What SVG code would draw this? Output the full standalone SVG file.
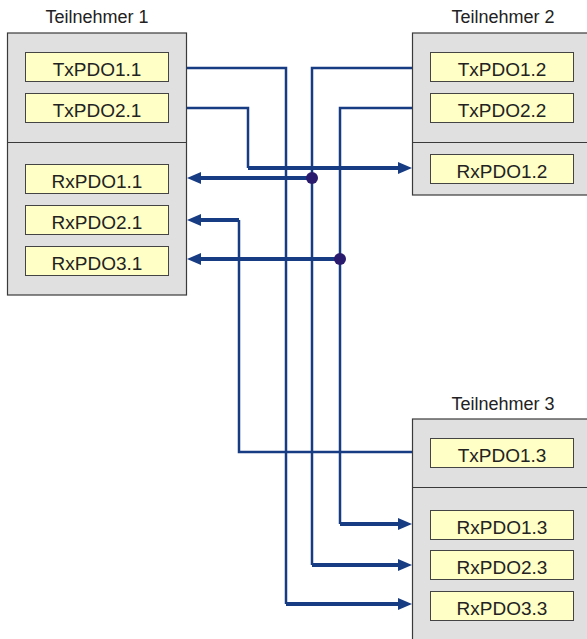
<svg xmlns="http://www.w3.org/2000/svg" width="587" height="639" viewBox="0 0 587 639">
<defs>
<style>
.outer{fill:#e0e0e0;stroke:#3a3a3a;stroke-width:1.2}
.div{stroke:#3a3a3a;stroke-width:1.2}
.pdo{fill:#ffffc6;stroke:#444;stroke-width:1}
.lbl{font-family:"Liberation Sans",Arial,sans-serif;font-size:19px;fill:#222;text-anchor:middle}
.ttl{font-family:"Liberation Sans",Arial,sans-serif;font-size:18px;fill:#222;text-anchor:middle}
.wire{fill:none;stroke:#173c84;stroke-width:2.5}
.arr{fill:none;stroke:#173c84;stroke-width:4;marker-end:url(#ah)}
.dot{fill:#2a1b6e}
</style>
<marker id="ah" markerUnits="userSpaceOnUse" markerWidth="14" markerHeight="12" refX="4" refY="6" orient="auto">
<path d="M0,0 L14,6 L0,12 z" fill="#173c84"/>
</marker>
</defs>

<g id="teilnehmer1">
<text class="ttl" x="97" y="23">Teilnehmer 1</text>
<rect class="outer" x="7.5" y="33" width="179" height="262"/>
<line class="div" x1="7.5" y1="142.5" x2="186.5" y2="142.5"/>
<g id="TxPDO1.1"><rect class="pdo" x="25.5" y="52.5" width="143" height="29"/><text class="lbl" x="97" y="75.5">TxPDO1.1</text></g>
<g id="TxPDO2.1"><rect class="pdo" x="25.5" y="93.5" width="143" height="29"/><text class="lbl" x="97" y="116.5">TxPDO2.1</text></g>
<g id="RxPDO1.1"><rect class="pdo" x="25.5" y="164.5" width="143" height="29"/><text class="lbl" x="97" y="187.5">RxPDO1.1</text></g>
<g id="RxPDO2.1"><rect class="pdo" x="25.5" y="205.5" width="143" height="29"/><text class="lbl" x="97" y="228.5">RxPDO2.1</text></g>
<g id="RxPDO3.1"><rect class="pdo" x="25.5" y="246.5" width="143" height="29"/><text class="lbl" x="97" y="269.5">RxPDO3.1</text></g>
</g>

<g id="teilnehmer2">
<text class="ttl" x="503" y="23">Teilnehmer 2</text>
<rect class="outer" x="412.5" y="33" width="176" height="162"/>
<line class="div" x1="412.5" y1="142.5" x2="588" y2="142.5"/>
<g id="TxPDO1.2"><rect class="pdo" x="430.5" y="52.5" width="143" height="29"/><text class="lbl" x="502" y="75.5">TxPDO1.2</text></g>
<g id="TxPDO2.2"><rect class="pdo" x="430.5" y="93.5" width="143" height="29"/><text class="lbl" x="502" y="116.5">TxPDO2.2</text></g>
<g id="RxPDO1.2"><rect class="pdo" x="430.5" y="154.5" width="143" height="29"/><text class="lbl" x="502" y="177.5">RxPDO1.2</text></g>
</g>

<g id="teilnehmer3">
<text class="ttl" x="503" y="410">Teilnehmer 3</text>
<rect class="outer" x="412.5" y="419" width="176" height="222"/>
<line class="div" x1="412.5" y1="487.5" x2="588" y2="487.5"/>
<g id="TxPDO1.3"><rect class="pdo" x="430.5" y="438.5" width="143" height="29"/><text class="lbl" x="502" y="461.5">TxPDO1.3</text></g>
<g id="RxPDO1.3"><rect class="pdo" x="430.5" y="510.5" width="143" height="29"/><text class="lbl" x="502" y="533.5">RxPDO1.3</text></g>
<g id="RxPDO2.3"><rect class="pdo" x="430.5" y="550.5" width="143" height="29"/><text class="lbl" x="502" y="573.5">RxPDO2.3</text></g>
<g id="RxPDO3.3"><rect class="pdo" x="430.5" y="591.5" width="143" height="29"/><text class="lbl" x="502" y="614.5">RxPDO3.3</text></g>
</g>

<g id="connectors">
<path class="wire" d="M187,68 H286 V604"/>
<line class="arr" x1="286" y1="604" x2="402" y2="604"/>
<path class="wire" d="M412,68 H312 V565"/>
<line class="arr" x1="312" y1="565" x2="402" y2="565"/>
<path class="wire" d="M187,108 H248 V168"/>
<line class="arr" x1="248" y1="168" x2="402" y2="168"/>
<path class="wire" d="M412,108 H340 V524"/>
<line class="arr" x1="340" y1="524" x2="402" y2="524"/>
<path class="wire" d="M412,452 H239 V220"/>
<line class="arr" x1="239" y1="220" x2="197" y2="220"/>
<line class="arr" x1="312" y1="178" x2="197" y2="178"/>
<line class="arr" x1="340" y1="259" x2="197" y2="259"/>
<circle class="dot" cx="312" cy="178" r="6"/>
<circle class="dot" cx="340" cy="259" r="6"/>
</g>
</svg>
